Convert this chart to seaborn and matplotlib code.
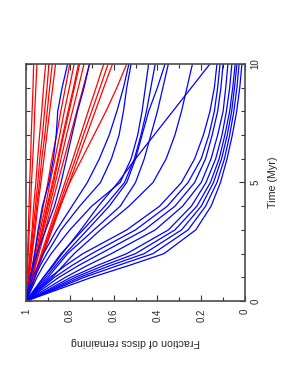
import pandas as pd
import matplotlib
matplotlib.use("Agg")
import matplotlib.pyplot as plt
from matplotlib.ticker import MultipleLocator
import seaborn as sns

# time samples (Myr) shared by every curve
time = [0, 0.5, 1, 1.5, 2, 3, 4, 5, 6, 7, 8, 9, 10]

# fraction of discs remaining, red runs
red_curves = [
    [1, 0.998, 0.996, 0.995, 0.993, 0.989, 0.986, 0.983, 0.979, 0.976, 0.972, 0.968, 0.965],
    [1, 0.997, 0.995, 0.992, 0.990, 0.985, 0.979, 0.975, 0.969, 0.964, 0.960, 0.955, 0.950],
    [1, 0.995, 0.990, 0.987, 0.982, 0.972, 0.965, 0.955, 0.947, 0.938, 0.928, 0.920, 0.910],
    [1, 0.994, 0.988, 0.984, 0.978, 0.968, 0.957, 0.946, 0.937, 0.925, 0.915, 0.904, 0.895],
    [1, 0.993, 0.987, 0.981, 0.975, 0.962, 0.951, 0.938, 0.928, 0.914, 0.903, 0.892, 0.880],
    [1, 0.992, 0.985, 0.978, 0.972, 0.958, 0.946, 0.932, 0.918, 0.905, 0.892, 0.878, 0.865],
    [1, 0.990, 0.980, 0.970, 0.961, 0.940, 0.921, 0.900, 0.882, 0.860, 0.841, 0.820, 0.800],
    [1, 0.988, 0.977, 0.966, 0.955, 0.934, 0.911, 0.890, 0.868, 0.846, 0.825, 0.802, 0.780],
    [1, 0.987, 0.975, 0.963, 0.950, 0.927, 0.904, 0.879, 0.855, 0.832, 0.808, 0.783, 0.760],
    [1, 0.985, 0.972, 0.960, 0.948, 0.925, 0.900, 0.874, 0.851, 0.828, 0.803, 0.779, 0.755],
    [1, 0.986, 0.973, 0.959, 0.946, 0.920, 0.893, 0.866, 0.840, 0.815, 0.788, 0.761, 0.735],
    [1, 0.985, 0.970, 0.955, 0.941, 0.912, 0.884, 0.855, 0.826, 0.797, 0.768, 0.739, 0.710],
    [1, 0.980, 0.962, 0.946, 0.930, 0.894, 0.858, 0.822, 0.786, 0.751, 0.716, 0.680, 0.645],
    [1, 0.979, 0.960, 0.943, 0.925, 0.888, 0.850, 0.812, 0.774, 0.738, 0.700, 0.662, 0.625],
    [1, 0.978, 0.958, 0.940, 0.920, 0.881, 0.842, 0.802, 0.763, 0.723, 0.684, 0.645, 0.605],
    [1, 0.980, 0.962, 0.943, 0.925, 0.885, 0.845, 0.800, 0.745, 0.690, 0.635, 0.585, 0.540],
]

# fraction of discs remaining, blue runs
blue_curves = [
    # fast group hugging the right edge
    [1, 0.85, 0.70, 0.53, 0.37, 0.225, 0.155, 0.112, 0.082, 0.058, 0.038, 0.024, 0.014],
    [1, 0.865, 0.735, 0.58, 0.42, 0.26, 0.18, 0.128, 0.094, 0.07, 0.051, 0.037, 0.027],
    [1, 0.875, 0.755, 0.615, 0.46, 0.29, 0.20, 0.144, 0.107, 0.081, 0.061, 0.048, 0.037],
    [1, 0.885, 0.775, 0.645, 0.50, 0.32, 0.22, 0.158, 0.118, 0.092, 0.07, 0.056, 0.045],
    [1, 0.895, 0.795, 0.675, 0.54, 0.35, 0.245, 0.178, 0.134, 0.105, 0.085, 0.07, 0.06],
    [1, 0.91, 0.82, 0.72, 0.61, 0.41, 0.285, 0.20, 0.155, 0.125, 0.10, 0.088, 0.078],
    [1, 0.925, 0.85, 0.76, 0.66, 0.46, 0.32, 0.23, 0.18, 0.15, 0.125, 0.11, 0.10],
    [1, 0.935, 0.87, 0.79, 0.70, 0.50, 0.355, 0.26, 0.20, 0.165, 0.14, 0.125, 0.114],
    [1, 0.945, 0.89, 0.82, 0.74, 0.54, 0.39, 0.29, 0.23, 0.19, 0.16, 0.14, 0.128],
    # middle group
    [1, 0.985, 0.97, 0.945, 0.92, 0.86, 0.79, 0.72, 0.665, 0.62, 0.585, 0.555, 0.53],
    [1, 0.98, 0.96, 0.935, 0.905, 0.84, 0.755, 0.66, 0.61, 0.575, 0.555, 0.54, 0.52],
    [1, 0.975, 0.95, 0.92, 0.885, 0.80, 0.70, 0.57, 0.52, 0.49, 0.47, 0.455, 0.44],
    [1, 0.96, 0.92, 0.875, 0.835, 0.75, 0.67, 0.58, 0.50, 0.415, 0.33, 0.245, 0.16],
    [1, 0.96, 0.92, 0.88, 0.84, 0.74, 0.64, 0.55, 0.505, 0.475, 0.45, 0.43, 0.41],
    [1, 0.955, 0.91, 0.865, 0.82, 0.72, 0.62, 0.54, 0.50, 0.47, 0.44, 0.40, 0.365],
    [1, 0.95, 0.90, 0.855, 0.81, 0.69, 0.57, 0.50, 0.46, 0.43, 0.40, 0.375, 0.35],
    [1, 0.94, 0.88, 0.83, 0.78, 0.66, 0.53, 0.42, 0.36, 0.32, 0.29, 0.265, 0.24],
    # slow runs mixed in with the red ones
    [1, 0.99, 0.98, 0.97, 0.96, 0.945, 0.925, 0.895, 0.875, 0.862, 0.855, 0.835, 0.81],
    [1, 0.99, 0.98, 0.965, 0.95, 0.91, 0.87, 0.84, 0.815, 0.79, 0.765, 0.735, 0.71],
]

frac_ticks = [1, 0.8, 0.6, 0.4, 0.2, 0]
frac_labels = ["1", "0.8", "0.6", "0.4", "0.2", "0"]
time_ticks = [0, 5, 10]
time_labels = ["0", "5", "10"]


def main():
    # long table: one row per sample, one unit per run
    rows = []
    for group, curves in (("red", red_curves), ("blue", blue_curves)):
        for i, vals in enumerate(curves):
            for t, f in zip(time, vals):
                rows.append({"run": f"{group}{i}", "group": group, "time": t, "frac": f})
    data = pd.DataFrame(rows)

    sns.set_style("ticks")
    plt.rcParams["font.family"] = ["Liberation Sans", "DejaVu Sans"]

    fig = plt.figure(figsize=(2.98, 3.85), dpi=100)
    ax = fig.add_axes([0.0872, 0.218, 0.735, 0.616])

    # the figure is drawn turned on its side: fraction runs along x, time up y
    sns.lineplot(data=data, x="frac", y="time", units="run", hue="group",
                 hue_order=["red", "blue"], palette={"red": "red", "blue": "blue"},
                 estimator=None, sort=False, legend=False, lw=0.9, ax=ax)

    ax.set_xlim(1, 0)
    ax.set_ylim(0, 10)

    ax.set_xticks(frac_ticks)
    ax.set_xticklabels(frac_labels, rotation=90)
    ax.xaxis.set_minor_locator(MultipleLocator(0.1))
    ax.set_yticks(time_ticks)
    ax.set_yticklabels(time_labels, rotation=90, va="center")
    ax.yaxis.set_minor_locator(MultipleLocator(1))

    ax.tick_params(axis="both", which="both", direction="in", top=True, bottom=True,
                   left=True, right=True, labelleft=False, labelright=True,
                   labelsize=7, color="0.2", width=0.8)
    ax.tick_params(axis="x", which="both", pad=5.5)
    ax.tick_params(axis="y", which="both", pad=4)
    ax.tick_params(which="major", length=4)
    ax.tick_params(which="minor", length=3)

    ax.set_xlabel("Fraction of discs remaining", rotation=180, fontsize=7.7, labelpad=11)
    ax.yaxis.set_label_position("right")
    ax.set_ylabel("Time (Myr)", rotation=90, fontsize=7.7, labelpad=5)

    for side in ax.spines.values():
        side.set_color("0.3")
        side.set_linewidth(1.2)

    fig.savefig("out.png", dpi=100, facecolor="white")


if __name__ == "__main__":
    main()
